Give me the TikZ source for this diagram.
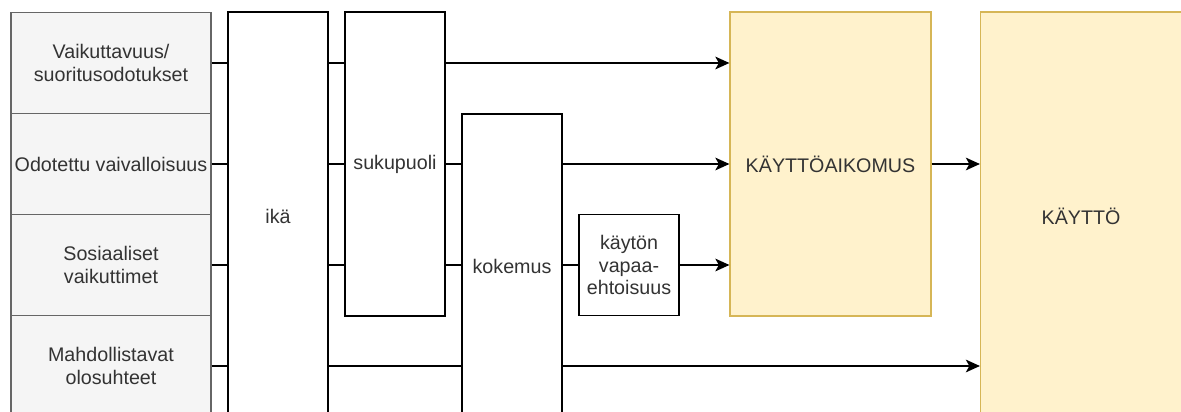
\documentclass[tikz,border=0pt]{standalone}
\usepackage{fontspec}
\setmainfont{Liberation Sans}
\usetikzlibrary{arrows.meta}
\definecolor{factorfill}{HTML}{F5F5F5}
\definecolor{factordraw}{HTML}{666666}
\definecolor{resultfill}{HTML}{FFF2CC}
\definecolor{resultdraw}{HTML}{D6B656}
\definecolor{labeltext}{HTML}{333333}

\begin{document}
\begin{tikzpicture}[x=0.025cm, y=-0.025cm,
    every node/.style={font=\fontsize{14}{16}\selectfont, text=labeltext, align=center, inner sep=1pt},
    factor/.style={draw=factordraw, fill=factorfill, line width=1pt,
                   minimum width=5cm, minimum height=2.525cm},
    moderator/.style={draw=black, fill=white, line width=1.3pt, minimum width=2.5cm},
    result/.style={draw=resultdraw, fill=resultfill, line width=0.8pt, minimum width=5.025cm},
    link/.style={line width=1.3pt},
    arr/.style={link, -{Stealth[length=10pt, width=9pt, inset=2.5pt]}}]

  \clip (0,0) rectangle (1181,412);

  % factors on the left
  \node[factor] (V) at (111,63)  {Vaikuttavuus/\\suoritusodotukset};
  \node[factor] (O) at (111,164) {Odotettu vaivalloisuus};
  \node[factor] (S) at (111,265) {Sosiaaliset\\vaikuttimet};
  \node[factor] (M) at (111,366) {Mahdollistavat\\olosuhteet};

  % moderators
  \node[moderator, minimum height=10.2cm]  (ika) at (278,216) {ikä};
  \node[moderator, minimum height=7.6cm]   (suk) at (395,164) {sukupuoli};
  \node[moderator, minimum height=7.6cm]   (kok) at (512,266) {kokemus};
  \node[moderator, minimum height=2.525cm] (vap) at (629,265) {käytön\\vapaa-\\ehtoisuus};

  % intention and use
  \node[result, minimum height=7.6cm]  (aik) at (830.5,164) {KÄYTTÖAIKOMUS};
  \node[result, minimum height=10.2cm] (kay) at (1081,216)  {KÄYTTÖ};

  \foreach \r in {V,O,S,M}
    \draw[link] (\r.east) -- (\r -| ika.west);
  \foreach \r in {V,O,S}
    \draw[link] (ika.east |- \r) -- (\r -| suk.west);
  \draw[link] (ika.east |- M) -- (M -| kok.west);
  \foreach \r in {O,S}
    \draw[link] (suk.east |- \r) -- (\r -| kok.west);
  \draw[link] (kok.east |- S) -- (vap.west);

  \draw[arr] (suk.east |- V) -- (V -| aik.west);
  \draw[arr] (kok.east |- O) -- (O -| aik.west);
  \draw[arr] (vap.east) -- (vap -| aik.west);
  \draw[arr] (kok.east |- M) -- (M -| kay.west);
  \draw[arr] (aik.east |- O) -- (O -| kay.west);
\end{tikzpicture}
\end{document}
